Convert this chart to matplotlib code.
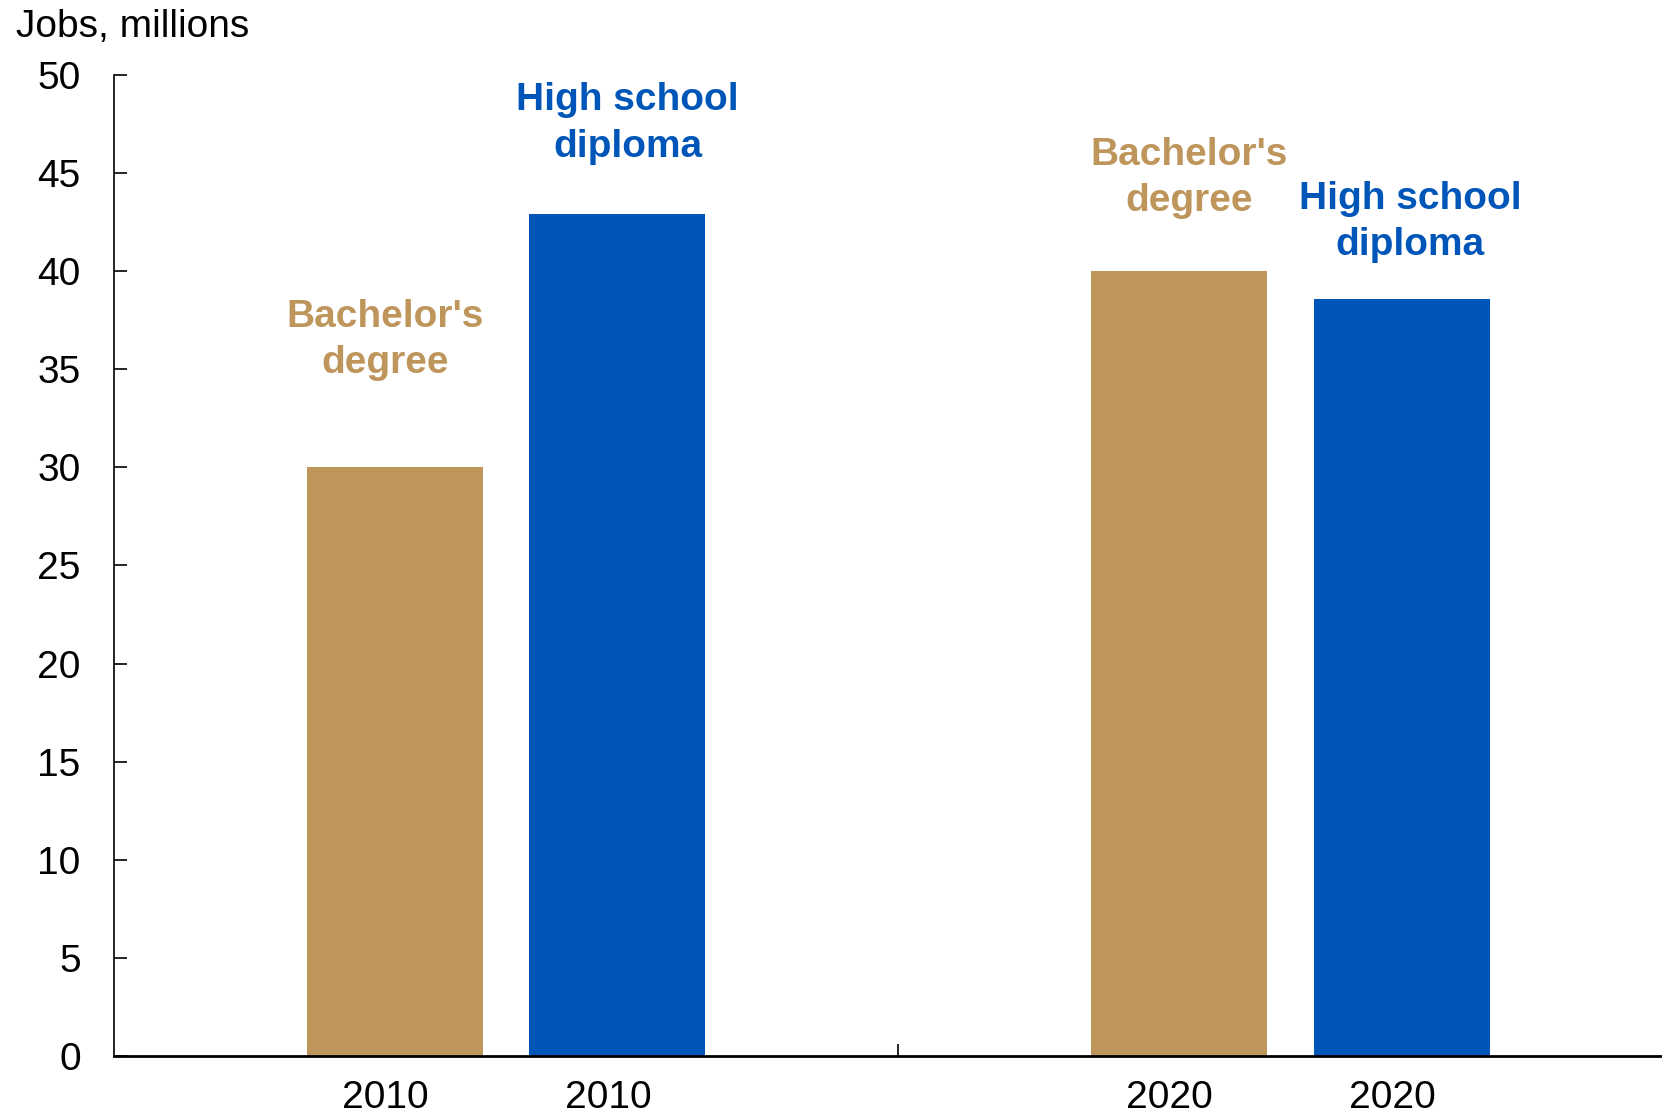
import matplotlib
matplotlib.use("Agg")
import matplotlib.pyplot as plt

plt.rcParams["font.family"] = ["Liberation Sans", "DejaVu Sans"]

# Jobs by education requirement, millions
years = ["2010", "2010", "2020", "2020"]
groups = ["Bachelor's\ndegree", "High school\ndiploma", "Bachelor's\ndegree", "High school\ndiploma"]
jobs = [30.0, 42.9, 40.0, 38.6]

tan = "#BE955B"
blue = "#0056B8"
colors = [tan, blue, tan, blue]

x_pos = [0.358, 0.642, 1.358, 1.642]
tick_x = [p - 0.012 for p in x_pos]
label_x = [0.346, 0.655, 1.371, 1.653]
label_y = [34.81, 45.83, 43.07, 40.83]

fig = plt.figure(figsize=(16.62, 11.16), dpi=100)
ax = fig.add_axes([0.0686, 0.0538, 0.9314, 0.879])

ax.bar(x_pos, jobs, width=0.2245, color=colors, zorder=2)

for xl, yl, txt, c in zip(label_x, label_y, groups, colors):
    ax.text(xl, yl, txt, color=c, ha="center", va="baseline", fontsize=28,
            fontweight="bold", linespacing=1.37)

ax.set_xlim(0, 1.974)
ax.set_ylim(0, 50)
ax.set_yticks(range(0, 51, 5))
ax.tick_params(axis="y", direction="in", length=9.5, width=1.2, labelsize=28, pad=24)

# single divider tick between the two years, year labels under each bar
ax.set_xticks([1])
ax.set_xticklabels([""])
ax.tick_params(axis="x", which="major", direction="in", length=8.5, width=1.2)
ax.set_xticks(tick_x, minor=True)
ax.set_xticklabels(years, minor=True)
ax.tick_params(axis="x", which="minor", length=0, labelsize=28, pad=17)

for s in ["top", "right"]:
    ax.spines[s].set_visible(False)
ax.spines["left"].set_linewidth(1.2)
ax.spines["bottom"].set_linewidth(2.0)

fig.text(16 / 1662, 1 - 37 / 1116, "Jobs, millions", fontsize=28, ha="left", va="baseline")

fig.savefig("out.png", dpi=100)
